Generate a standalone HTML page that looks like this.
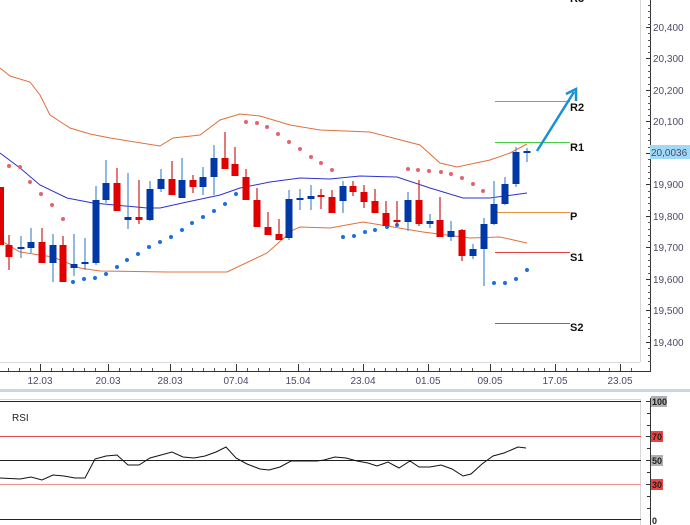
<!DOCTYPE html>
<html><head><meta charset="utf-8"><style>
html,body{margin:0;padding:0;background:#fff;width:690px;height:525px;overflow:hidden}
svg{display:block;font-family:"Liberation Sans",sans-serif}
.ax{font-size:10px;fill:#4a4a6a}
</style></head><body>
<svg width="690" height="525" viewBox="0 0 690 525" xmlns="http://www.w3.org/2000/svg">
<rect width="690" height="525" fill="#fff"/>
<line x1="640.5" y1="0" x2="640.5" y2="362" stroke="#d8d8d8"/>
<line x1="0" y1="362.5" x2="640" y2="362.5" stroke="#d8d8d8"/>
<line x1="650.5" y1="0" x2="650.5" y2="371" stroke="#333"/>
<line x1="0" y1="371.5" x2="651" y2="371.5" stroke="#333"/>
<g stroke="#333">
<line x1="646" y1="27.5" x2="651" y2="27.5"/><line x1="646" y1="58.5" x2="651" y2="58.5"/><line x1="646" y1="90.5" x2="651" y2="90.5"/><line x1="646" y1="121.5" x2="651" y2="121.5"/><line x1="646" y1="153.5" x2="651" y2="153.5"/><line x1="646" y1="184.5" x2="651" y2="184.5"/><line x1="646" y1="216.5" x2="651" y2="216.5"/><line x1="646" y1="247.5" x2="651" y2="247.5"/><line x1="646" y1="279.5" x2="651" y2="279.5"/><line x1="646" y1="310.5" x2="651" y2="310.5"/><line x1="646" y1="342.5" x2="651" y2="342.5"/>
<line x1="40.5" y1="364" x2="40.5" y2="371"/><line x1="108.5" y1="364" x2="108.5" y2="371"/><line x1="170.5" y1="364" x2="170.5" y2="371"/><line x1="236.5" y1="364" x2="236.5" y2="371"/><line x1="298.5" y1="364" x2="298.5" y2="371"/><line x1="363.5" y1="364" x2="363.5" y2="371"/><line x1="428.5" y1="364" x2="428.5" y2="371"/><line x1="490.5" y1="364" x2="490.5" y2="371"/><line x1="555.5" y1="364" x2="555.5" y2="371"/><line x1="620.5" y1="364" x2="620.5" y2="371"/>
</g>
<path stroke="#555" fill="none" d="M648 5.5h3M648 11.5h3M648 17.5h3M648 24.5h3M648 33.5h3M648 40.5h3M648 46.5h3M648 52.5h3M648 65.5h3M648 71.5h3M648 77.5h3M648 84.5h3M648 96.5h3M648 103.5h3M648 109.5h3M648 115.5h3M648 128.5h3M648 134.5h3M648 140.5h3M648 147.5h3M648 159.5h3M648 166.5h3M648 172.5h3M648 178.5h3M648 191.5h3M648 197.5h3M648 203.5h3M648 210.5h3M648 222.5h3M648 229.5h3M648 235.5h3M648 241.5h3M648 254.5h3M648 260.5h3M648 266.5h3M648 273.5h3M648 285.5h3M648 292.5h3M648 298.5h3M648 304.5h3M648 317.5h3M648 323.5h3M648 329.5h3M648 336.5h3M648 348.5h3M648 355.5h3M648 361.5h3
M8.5 368v3M19.5 368v3M30.5 368v3M51.5 368v3M62.5 368v3M73.5 368v3M84.5 368v3M95.5 368v3M119.5 368v3M130.5 368v3M141.5 368v3M152.5 368v3M181.5 368v3M192.5 368v3M203.5 368v3M214.5 368v3M225.5 368v3M247.5 368v3M258.5 368v3M269.5 368v3M280.5 368v3M309.5 368v3M320.5 368v3M331.5 368v3M342.5 368v3M353.5 368v3M374.5 368v3M385.5 368v3M396.5 368v3M407.5 368v3M417.5 368v3M439.5 368v3M450.5 368v3M461.5 368v3M472.5 368v3M501.5 368v3M512.5 368v3M523.5 368v3M534.5 368v3M544.5 368v3M566.5 368v3M577.5 368v3M588.5 368v3M599.5 368v3M609.5 368v3M631.5 368v3"/>
<g class="ax">
<text x="653" y="31">20,400</text><text x="653" y="62">20,300</text><text x="653" y="94">20,200</text><text x="653" y="125">20,100</text><text x="653" y="188">19,900</text><text x="653" y="220">19,800</text><text x="653" y="251">19,700</text><text x="653" y="283">19,600</text><text x="653" y="314">19,500</text><text x="653" y="346">19,400</text>
</g>
<rect x="650" y="145" width="40" height="14" fill="#9fd9f7"/>
<text x="651" y="156" class="ax" fill="#223">20,0036</text>
<g class="ax" text-anchor="middle">
<text x="40" y="384">12.03</text><text x="108" y="384">20.03</text><text x="170" y="384">28.03</text><text x="236" y="384">07.04</text><text x="298" y="384">15.04</text><text x="363" y="384">23.04</text><text x="428" y="384">01.05</text><text x="490" y="384">09.05</text><text x="555" y="384">17.05</text><text x="620" y="384">23.05</text>
</g>
<rect x="0" y="389" width="690" height="3" fill="#c8d6ea"/>

<polyline fill="none" stroke="#e0703a" stroke-width="1" points="0,68 10,76 30,82 40,95 50,115 70,128 90,134 110,138 160,146 173,138 200,135 220,120 240,114 260,116 290,125 320,130 370,132 420,145 440,163 457,167 490,160 510,153 527,144"/>
<polyline fill="none" stroke="#3030d0" stroke-width="1" points="0,153 20,168 40,185 67,198 93,203 147,208 160,208 187,202 220,195 240,188 270,182 300,178 330,179 360,176 397,177 430,188 463,198 490,198 527,193"/>
<polyline fill="none" stroke="#e0703a" stroke-width="1" points="0,240 20,252 53,257 80,268 100,271 167,272 227,272 267,253 293,230 300,227 330,228 363,222 423,232 470,238 500,237 527,243"/>

<line x1="495" y1="101.5" x2="570" y2="101.5" stroke="#44cc44"/>
<line x1="495" y1="142.5" x2="570" y2="142.5" stroke="#44cc44"/>
<line x1="495" y1="212.5" x2="570" y2="212.5" stroke="#e8903a"/>
<line x1="495" y1="252.5" x2="570" y2="252.5" stroke="#e04040"/>
<line x1="495" y1="323.5" x2="570" y2="323.5" stroke="#e04040"/>
<g font-size="11" font-weight="bold" fill="#111">
<text x="570" y="2">R3</text><text x="570" y="111">R2</text><text x="570" y="151">R1</text><text x="570" y="220">P</text><text x="570" y="261">S1</text><text x="570" y="331">S2</text>
</g>
<line x1="537" y1="151" x2="574" y2="92" stroke="#1a90d8" stroke-width="2.5"/>
<polyline points="566,94 576,89 576,101" fill="none" stroke="#1a90d8" stroke-width="2.5"/>

<g fill="#e86070">
<circle cx="9" cy="166" r="2"/><circle cx="20" cy="167" r="2"/><circle cx="30" cy="182" r="2"/><circle cx="41" cy="194" r="2"/><circle cx="52" cy="205" r="2"/><circle cx="63" cy="219" r="2"/>
<circle cx="246" cy="122" r="2"/><circle cx="257" cy="123" r="2"/><circle cx="267" cy="127" r="2"/><circle cx="278" cy="134" r="2"/><circle cx="289" cy="142" r="2"/><circle cx="300" cy="149" r="2"/><circle cx="311" cy="157" r="2"/><circle cx="321" cy="163" r="2"/><circle cx="332" cy="170" r="2"/>
<circle cx="408" cy="169" r="2"/><circle cx="418" cy="170" r="2"/><circle cx="429" cy="171" r="2"/><circle cx="441" cy="172" r="2"/><circle cx="451" cy="174" r="2"/><circle cx="462" cy="178" r="2"/><circle cx="473" cy="184" r="2"/><circle cx="483" cy="191" r="2"/>
</g>
<g fill="#1a70e0">
<circle cx="73" cy="282" r="2"/><circle cx="84" cy="279" r="2"/><circle cx="95" cy="278" r="2"/><circle cx="106" cy="274" r="2"/><circle cx="117" cy="267" r="2"/><circle cx="127" cy="260" r="2"/><circle cx="138" cy="254" r="2"/><circle cx="149" cy="247" r="2"/><circle cx="160" cy="242" r="2"/><circle cx="171" cy="237" r="2"/><circle cx="182" cy="230" r="2"/><circle cx="192" cy="223" r="2"/><circle cx="203" cy="217" r="2"/><circle cx="214" cy="211" r="2"/><circle cx="225" cy="204" r="2"/><circle cx="236" cy="194" r="2"/>
<circle cx="343" cy="237" r="2"/><circle cx="354" cy="236" r="2"/><circle cx="365" cy="232" r="2"/><circle cx="375" cy="230" r="2"/><circle cx="387" cy="227" r="2"/><circle cx="397" cy="225" r="2"/>
<circle cx="494" cy="283" r="2"/><circle cx="505" cy="283" r="2"/><circle cx="516" cy="279" r="2"/><circle cx="527" cy="270" r="2"/>
</g>

<g stroke="#cc2020" stroke-width="1.2">
<line x1="9" y1="235" x2="9" y2="270"/><line x1="42" y1="228" x2="42" y2="263"/><line x1="63" y1="236" x2="63" y2="282"/><line x1="117" y1="168" x2="117" y2="211"/><line x1="139" y1="180" x2="139" y2="224"/><line x1="172" y1="161" x2="172" y2="195"/><line x1="193" y1="175" x2="193" y2="193"/><line x1="225" y1="132" x2="225" y2="169"/><line x1="235" y1="147" x2="235" y2="176"/><line x1="246" y1="169" x2="246" y2="200"/><line x1="257" y1="188" x2="257" y2="227"/><line x1="268" y1="212" x2="268" y2="235"/><line x1="279" y1="219" x2="279" y2="240"/><line x1="321" y1="189" x2="321" y2="209"/><line x1="332" y1="190" x2="332" y2="213"/><line x1="353" y1="181" x2="353" y2="196"/><line x1="364" y1="185" x2="364" y2="208"/><line x1="375" y1="189" x2="375" y2="213"/><line x1="386" y1="201" x2="386" y2="226"/><line x1="397" y1="201" x2="397" y2="226"/><line x1="419" y1="180" x2="419" y2="226"/><line x1="440" y1="197" x2="440" y2="237"/><line x1="462" y1="229" x2="462" y2="261"/>
</g>
<g fill="#e00000">
<rect x="-3" y="187" width="7" height="58"/><rect x="5.5" y="245" width="7" height="12"/><rect x="38.5" y="242" width="7" height="21"/><rect x="59.5" y="245" width="7" height="37"/><rect x="113.5" y="183" width="7" height="28"/><rect x="135.5" y="217" width="7" height="3"/><rect x="168.5" y="179" width="7" height="16"/><rect x="189.5" y="180" width="7" height="7"/><rect x="221.5" y="158" width="7" height="11"/><rect x="231.5" y="164" width="7" height="12"/><rect x="242.5" y="177" width="7" height="23"/><rect x="253.5" y="200" width="7" height="27"/><rect x="264.5" y="227" width="7" height="8"/><rect x="275.5" y="234" width="7" height="6"/><rect x="317.5" y="195" width="7" height="2"/><rect x="328.5" y="197" width="7" height="16"/><rect x="349.5" y="186" width="7" height="6"/><rect x="360.5" y="192" width="7" height="10"/><rect x="371.5" y="201" width="7" height="12"/><rect x="382.5" y="213" width="7" height="13"/><rect x="393.5" y="220" width="7" height="2"/><rect x="415.5" y="200" width="7" height="24"/><rect x="436.5" y="220" width="7" height="17"/><rect x="458.5" y="230" width="7" height="26"/>
</g>
<g stroke="#4a8ad0" stroke-width="1.2">
<line x1="21" y1="236" x2="21" y2="258"/><line x1="31" y1="228" x2="31" y2="253"/><line x1="53" y1="234" x2="53" y2="282"/><line x1="74" y1="234" x2="74" y2="276"/><line x1="85" y1="238" x2="85" y2="270"/><line x1="96" y1="186" x2="96" y2="265"/><line x1="106" y1="160" x2="106" y2="203"/><line x1="128" y1="173" x2="128" y2="229"/><line x1="150" y1="181" x2="150" y2="221"/><line x1="161" y1="169" x2="161" y2="192"/><line x1="182" y1="158" x2="182" y2="198"/><line x1="203" y1="167" x2="203" y2="195"/><line x1="214" y1="145" x2="214" y2="195"/><line x1="289" y1="190" x2="289" y2="240"/><line x1="300" y1="189" x2="300" y2="210"/><line x1="311" y1="185" x2="311" y2="210"/><line x1="343" y1="181" x2="343" y2="213"/><line x1="408" y1="192" x2="408" y2="231"/><line x1="430" y1="214" x2="430" y2="228"/><line x1="451" y1="221" x2="451" y2="241"/><line x1="473" y1="244" x2="473" y2="259"/><line x1="484" y1="218" x2="484" y2="286"/><line x1="494" y1="181" x2="494" y2="225"/><line x1="505" y1="177" x2="505" y2="205"/><line x1="516" y1="147" x2="516" y2="187"/><line x1="527" y1="148" x2="527" y2="162"/>
</g>
<g fill="#0039a6">
<rect x="17.5" y="247" width="7" height="2"/><rect x="27.5" y="242" width="7" height="6"/><rect x="49.5" y="245" width="7" height="18"/><rect x="70.5" y="264" width="7" height="4"/><rect x="81.5" y="262" width="7" height="2"/><rect x="92.5" y="200" width="7" height="63"/><rect x="102.5" y="183" width="7" height="17"/><rect x="124.5" y="217" width="7" height="3"/><rect x="146.5" y="189" width="7" height="31"/><rect x="157.5" y="179" width="7" height="10"/><rect x="178.5" y="180" width="7" height="18"/><rect x="199.5" y="177" width="7" height="10"/><rect x="210.5" y="158" width="7" height="19"/><rect x="285.5" y="199" width="7" height="39"/><rect x="296.5" y="198" width="7" height="2"/><rect x="307.5" y="196" width="7" height="3"/><rect x="339.5" y="186" width="7" height="15"/><rect x="404.5" y="200" width="7" height="22"/><rect x="426.5" y="221" width="7" height="3"/><rect x="447.5" y="231" width="7" height="6"/><rect x="469.5" y="249" width="7" height="7"/><rect x="480.5" y="224" width="7" height="25"/><rect x="490.5" y="204" width="7" height="20"/><rect x="501.5" y="184" width="7" height="20"/><rect x="512.5" y="152" width="7" height="32"/><rect x="523.5" y="151" width="7" height="2"/>
</g>

<line x1="0" y1="399.5" x2="640" y2="399.5" stroke="#d8d8d8"/>
<line x1="640.5" y1="399" x2="640.5" y2="525" stroke="#d8d8d8"/>
<line x1="0" y1="401.5" x2="641" y2="401.5" stroke="#222"/>
<line x1="0" y1="436.5" x2="641" y2="436.5" stroke="#e05050"/>
<line x1="0" y1="460.5" x2="641" y2="460.5" stroke="#222"/>
<line x1="0" y1="484.5" x2="641" y2="484.5" stroke="#f09090"/>
<line x1="0" y1="519.5" x2="641" y2="519.5" stroke="#222"/>
<line x1="650.5" y1="398" x2="650.5" y2="525" stroke="#333"/>
<g stroke="#333"><line x1="646" y1="401.5" x2="651" y2="401.5"/><line x1="646" y1="436.5" x2="651" y2="436.5"/><line x1="646" y1="460.5" x2="651" y2="460.5"/><line x1="646" y1="484.5" x2="651" y2="484.5"/><line x1="647" y1="413.5" x2="651" y2="413.5"/><line x1="647" y1="425.5" x2="651" y2="425.5"/><line x1="647" y1="448.5" x2="651" y2="448.5"/><line x1="647" y1="472.5" x2="651" y2="472.5"/><line x1="647" y1="496.5" x2="651" y2="496.5"/><line x1="647" y1="508.5" x2="651" y2="508.5"/></g>
<rect x="651" y="396" width="16" height="11" fill="#b0b0b0"/>
<rect x="651" y="431" width="12" height="11" fill="#f04040"/>
<rect x="651" y="455" width="12" height="11" fill="#b0b0b0"/>
<rect x="651" y="479" width="12" height="11" fill="#f04040"/>
<g font-size="9" font-weight="bold" fill="#222"><text x="652" y="405">100</text><text x="652" y="440">70</text><text x="652" y="464">50</text><text x="652" y="488">30</text><text x="652" y="524">0</text></g>
<text x="12" y="421" font-size="10" fill="#222">RSI</text>
<polyline fill="none" stroke="#111" stroke-width="1" points="0,478 20,479 31,477 42,480 53,475 64,476 75,478 85,478 95,459 106,456 117,455 128,465 139,465 150,458 161,455 172,452 183,457 194,458 205,456 216,452 226,447 236,458 247,464 260,469 269,470 280,467 291,461 304,461 317,461 324,460 335,457 346,458 357,461 368,463 377,466 388,462 399,468 410,461 419,467 430,467 441,465 452,469 463,476 471,474 482,464 493,456 504,453 518,447 526,448"/>
</svg>
</body></html>
